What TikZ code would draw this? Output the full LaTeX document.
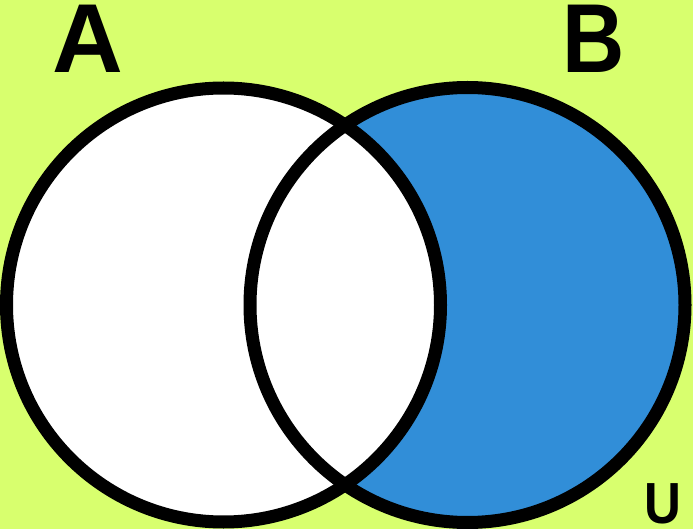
\documentclass[tikz,border=0pt]{standalone}
\usepackage{fontspec}
\setmainfont{Liberation Sans}
\definecolor{bggreen}{HTML}{D8FF6E}
\definecolor{setblue}{HTML}{318ED8}
\begin{document}
\begin{tikzpicture}[x=1pt,y=-1pt,
  setcircle/.style={draw=black,line width=13pt},
  biglabel/.style={anchor=base,inner sep=0pt,font=\fontsize{98}{110}\selectfont\bfseries},
  smalllabel/.style={anchor=base,inner sep=0pt,xscale=0.88,font=\fontsize{58}{66}\selectfont\bfseries}]
\fill[bggreen] (0,0) rectangle (693,529);
\useasboundingbox (0,0) rectangle (693,529);
\coordinate (ca) at (223.5,305);
\coordinate (cb) at (467.5,305);
\fill[setblue] (cb) circle[radius=217.5];
\fill[white] (ca) circle[radius=217];
\draw[setcircle] (ca) circle[radius=217];
\draw[setcircle] (cb) circle[radius=217.5];
\node[biglabel] (la) at (87.5,73) {A};
\node[biglabel,xscale=0.88] (lb) at (594,73) {B};
\node[smalllabel] (lu) at (663,523) {U};
\end{tikzpicture}
\end{document}
